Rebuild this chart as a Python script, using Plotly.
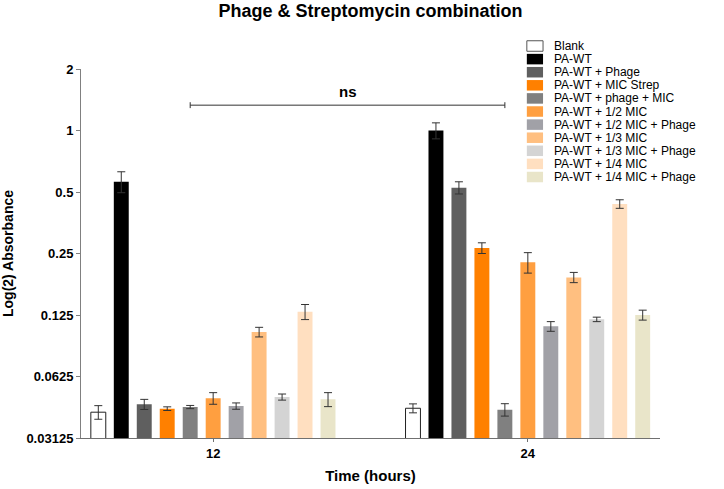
import math
import plotly.graph_objects as go

# ---- data ----
times = ["12", "24"]
series_names = [
    "Blank", "PA-WT", "PA-WT + Phage", "PA-WT + MIC Strep", "PA-WT + phage + MIC",
    "PA-WT + 1/2 MIC", "PA-WT + 1/2 MIC + Phage", "PA-WT + 1/3 MIC",
    "PA-WT + 1/3 MIC + Phage", "PA-WT + 1/4 MIC", "PA-WT + 1/4 MIC + Phage",
]
values_12 = [0.0418, 0.562, 0.0457, 0.0435, 0.0443, 0.0489, 0.0448, 0.1032, 0.0496, 0.1297, 0.0483]
values_24 = [0.0437, 1.00, 0.525, 0.266, 0.0430, 0.2264, 0.110, 0.191, 0.119, 0.437, 0.125]
errors_12 = [0.0032, 0.066, 0.0026, 0.0009, 0.0008, 0.0032, 0.0016, 0.0056, 0.0017, 0.011, 0.0038]
errors_24 = [0.0022, 0.09, 0.036, 0.016, 0.0030, 0.026, 0.006, 0.011, 0.003, 0.021, 0.007]
colors = ["#ffffff", "#000000", "#5f5f5f", "#ff8000", "#808080", "#ff9f40",
          "#a1a1a7", "#ffbf80", "#d4d4d4", "#ffdfc0", "#e9e5c9"]
y_tickvals = [0.03125, 0.0625, 0.125, 0.25, 0.5, 1, 2]
y_ticktext = ["0.03125", "0.0625", "0.125", "0.25", "0.5", "1", "2"]

FONT = "Liberation Sans, Arial, sans-serif"
BARGAP = 0.197
GROUPGAP = 0.35

fig = go.Figure()
for i, name in enumerate(series_names):
    fig.add_trace(go.Bar(
        name=name, x=times, y=[values_12[i], values_24[i]],
        marker=dict(color=colors[i],
                    line=dict(color="#222222" if i == 0 else colors[i], width=1 if i == 0 else 0)),
        error_y=dict(type="data", array=[errors_12[i], errors_24[i]], visible=True,
                     color="#333333", thickness=1, width=4),
        showlegend=False,
    ))

# manual compact legend
n = len(series_names)
y_first = 1.0623
step = 0.0355
sw_h = 0.0285
for i, name in enumerate(series_names):
    yc = y_first - i * step
    fig.add_shape(type="rect", xref="paper", yref="paper",
                  x0=0.770, x1=0.798, y0=yc - sw_h / 2, y1=yc + sw_h / 2,
                  fillcolor=colors[i],
                  line=dict(color="#555555" if i == 0 else colors[i], width=1 if i == 0 else 0))
    fig.add_annotation(text=name, xref="paper", yref="paper", x=0.8135, y=yc,
                       xanchor="left", yanchor="middle", showarrow=False,
                       font=dict(family=FONT, size=12, color="#000000"))

# significance bracket between "PA-WT + phage + MIC" bars
pitch = (1 - BARGAP) / n
idx = series_names.index("PA-WT + phage + MIC")
off = (idx - (n - 1) / 2) * pitch
xa, xb = 0 + off, 1 + off
yb = 0.902
fig.add_shape(type="line", xref="x", yref="paper", x0=xa, x1=xb, y0=yb, y1=yb,
              line=dict(color="#333333", width=1))
for xx in (xa, xb):
    fig.add_shape(type="line", xref="x", yref="paper", x0=xx, x1=xx, y0=yb - 0.008, y1=yb + 0.008,
                  line=dict(color="#333333", width=1))
fig.add_annotation(text="<b>ns</b>", xref="x", yref="paper", x=(xa + xb) / 2, y=0.940,
                   yanchor="middle", showarrow=False,
                   font=dict(family=FONT, size=15, color="#000000"))

fig.update_layout(
    width=724, height=489,
    margin=dict(l=81, r=64, t=69, b=51, autoexpand=False),
    paper_bgcolor="white", plot_bgcolor="white",
    barmode="group", bargap=BARGAP, bargroupgap=GROUPGAP,
    title=dict(text="<b>Phage & Streptomycin combination</b>", x=0.5117, xanchor="center",
               y=1 - 11 / 489, yanchor="middle", yref="container",
               font=dict(family=FONT, size=18, color="#000000")),
    font=dict(family=FONT, color="#000000"),
    xaxis=dict(type="category", range=[-0.42, 1.42], showline=True, linecolor="#707070",
               linewidth=1, ticks="outside", ticklen=3, tickcolor="#707070", automargin=False,
               tickfont=dict(family=FONT, size=13, color="#000000", weight="bold"),
               title=dict(text="<b>Time (hours)</b>", standoff=10,
                          font=dict(family=FONT, size=15, color="#000000")),
               showgrid=False, zeroline=False),
    yaxis=dict(type="log", range=[math.log10(0.03125), math.log10(2)], showline=True,
               linecolor="#808080", linewidth=1, ticks="outside", ticklen=4, tickcolor="#808080",
               tickvals=y_tickvals, ticktext=y_ticktext, automargin=False,
               tickfont=dict(family=FONT, size=13, color="#000000", weight="bold"),
               title=dict(text="<b>Log(2) Absorbance</b>", standoff=10,
                          font=dict(family=FONT, size=14, color="#000000")),
               showgrid=False, zeroline=False),
)

fig.write_html("out.html", config={"displayModeBar": False},
               post_script="document.body.style.margin='0';document.body.style.padding='0';")
